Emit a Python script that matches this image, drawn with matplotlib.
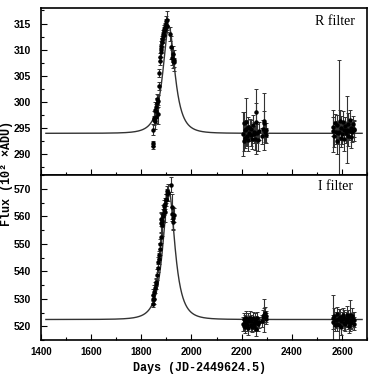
import numpy as np
import matplotlib
matplotlib.use('Agg')
import matplotlib.pyplot as plt
from matplotlib.ticker import MultipleLocator

# %% data
# R filter: peak, first and second baseline season
t_R1 = [1845, 1846, 1847, 1849, 1851, 1853, 1855, 1857, 1858, 1860, 1862, 1864,
        1866, 1868, 1870, 1872, 1874, 1876, 1877, 1878, 1880, 1881, 1883, 1884,
        1886, 1887, 1889, 1890, 1892, 1894, 1896, 1898, 1900, 1902, 1904,
        1916, 1920, 1924, 1926, 1928, 1930, 1932]
f_R1 = [291.5, 292.1, 294.7, 296.5, 297.0, 296.4, 298.5, 297.2, 299.0, 298.3, 299.8, 300.6,
        297.6, 300.2, 303.0, 305.5, 307.8, 308.6, 309.5, 310.2, 310.8, 311.5, 312.0, 311.4,
        312.6, 313.0, 312.8, 313.6, 313.9, 314.3, 314.0, 315.0, 315.4, 314.6, 315.6,
        313.0, 310.5, 308.5, 309.2, 307.8, 308.0, 307.6]
e_R1 = [0.5, 0.5, 1.0, 0.9, 1.3, 1.6, 1.5, 1.2, 1.0, 1.4, 0.9, 1.0,
        1.8, 1.2, 0.8, 0.8, 0.8, 0.8, 0.9, 0.8, 0.8, 0.8, 0.7, 0.9,
        0.8, 0.8, 0.8, 0.7, 0.8, 0.8, 0.9, 0.8, 1.0, 1.2, 1.8,
        1.3, 2.2, 1.5, 1.6, 1.3, 2.0, 0.9]

t_R2 = [2206, 2208, 2210, 2212, 2214, 2216, 2218, 2221, 2224, 2227, 2230, 2233, 2236,
        2239, 2242, 2245, 2248, 2251, 2254, 2257, 2259, 2262, 2265, 2269, 2282, 2285,
        2288, 2290, 2293, 2296, 2299]
f_R2 = [293.8, 296.0, 292.5, 294.6, 293.1, 296.2, 294.9, 293.4, 295.3, 292.8, 294.1, 295.0, 293.6,
        294.8, 292.9, 295.5, 293.8, 294.3, 293.0, 298.0, 296.2, 294.0, 292.7, 294.5, 293.5, 294.9,
        296.0, 296.3, 294.2, 293.6, 294.6]
e_R2 = [4.2, 2.0, 1.8, 1.6, 2.0, 4.5, 1.7, 1.9, 1.8, 2.1, 1.5, 1.8, 2.0,
        1.7, 1.9, 2.0, 1.6, 1.8, 2.2, 1.8, 6.2, 1.8, 2.0, 1.7, 1.5, 1.6,
        2.2, 5.5, 1.8, 1.5, 1.4]

t_R3 = [2563, 2566, 2569, 2572, 2575, 2578, 2581, 2584, 2588, 2591, 2594, 2597, 2600, 2603,
        2606, 2609, 2612, 2615, 2619, 2622, 2625, 2628, 2631, 2634, 2637, 2640, 2643, 2646, 2649]
f_R3 = [294.5, 295.3, 293.4, 296.0, 294.2, 292.6, 295.6, 294.0, 294.2, 296.4, 293.1, 295.0, 293.8, 296.2,
        294.7, 292.9, 295.4, 294.1, 294.7, 293.5, 295.8, 294.4, 296.6, 293.2, 295.1, 294.3, 295.7, 294.8, 294.6]
e_R3 = [4.0, 1.8, 2.0, 1.7, 2.2, 2.5, 1.9, 2.1, 13.8, 2.0, 1.8, 2.3, 1.9, 2.0,
        1.7, 2.2, 1.8, 2.0, 6.4, 1.9, 2.1, 1.7, 1.8, 2.0, 1.6, 1.9, 1.7, 1.5, 2.0]

# I filter
t_I1 = [1845, 1846, 1848, 1850, 1852, 1855, 1857, 1859, 1862, 1865, 1867, 1869, 1871,
        1873, 1875, 1877, 1879, 1880, 1882, 1884, 1885, 1887, 1889, 1891, 1893, 1895,
        1897, 1899, 1901, 1903, 1905, 1919, 1922, 1924, 1926, 1928, 1930]
f_I1 = [528.2, 530.0, 531.5, 529.8, 532.6, 534.0, 536.2, 535.5, 538.8, 541.2, 543.5, 544.6, 546.0,
        548.2, 550.0, 552.5, 557.6, 559.0, 556.8, 558.5, 561.0, 560.2, 562.4, 563.8, 561.5, 564.6,
        565.8, 566.5, 568.0, 569.2, 568.6, 571.5, 563.5, 561.0, 559.3, 558.0, 560.5]
e_I1 = [1.2, 1.5, 2.0, 1.8, 2.5, 2.0, 1.5, 1.8, 2.0, 1.5, 1.8, 2.0, 1.5,
        2.2, 1.8, 2.0, 3.5, 2.5, 4.0, 2.2, 3.0, 2.5, 2.0, 2.2, 3.5, 2.0,
        2.2, 1.8, 2.0, 1.8, 3.0, 2.8, 4.5, 2.5, 4.0, 3.0, 2.5]

t_I2 = [2206, 2208, 2210, 2212, 2214, 2216, 2218, 2221, 2224, 2227, 2230, 2233, 2236,
        2239, 2242, 2245, 2248, 2251, 2254, 2257, 2259, 2262, 2265, 2269, 2282, 2285,
        2288, 2290, 2293, 2296, 2299]
f_I2 = [521.0, 522.8, 520.2, 521.9, 519.8, 523.0, 521.4, 520.6, 522.5, 519.5, 521.8, 523.2, 520.4,
        522.0, 519.9, 522.9, 521.2, 520.3, 522.4, 521.6, 519.2, 523.0, 520.8, 521.5, 522.0, 523.5,
        524.2, 524.0, 525.0, 522.8, 523.6]
e_I2 = [2.5, 2.2, 2.0, 2.4, 2.1, 2.6, 2.0, 2.3, 2.2, 2.5, 2.0, 2.4, 2.1,
        2.3, 2.0, 2.5, 2.2, 2.1, 2.4, 2.0, 2.6, 2.2, 2.3, 2.0, 2.1, 2.4,
        2.5, 6.0, 2.2, 2.0, 2.1]

t_I3 = [2563, 2566, 2569, 2572, 2575, 2578, 2581, 2584, 2588, 2591, 2594, 2597, 2600, 2603,
        2606, 2609, 2612, 2615, 2619, 2622, 2625, 2628, 2631, 2634, 2637, 2640, 2643, 2646, 2649]
f_I3 = [523.0, 521.5, 523.8, 520.6, 522.4, 524.6, 521.0, 522.8, 520.5, 523.5, 521.8, 519.8, 522.6, 524.0,
        521.2, 523.2, 520.9, 522.5, 524.3, 521.6, 523.0, 520.2, 524.0, 522.2, 521.4, 523.8, 522.6, 521.0, 522.4]
e_I3 = [8.5, 2.6, 2.8, 2.4, 3.0, 2.6, 2.8, 2.5, 6.0, 2.7, 2.4, 3.0, 2.6, 2.8,
        2.5, 2.7, 2.6, 2.9, 3.2, 2.5, 2.8, 2.6, 5.5, 2.7, 2.5, 3.0, 2.6, 2.4, 2.8]

# microlensing fit (Paczynski)
t0, tE, u0 = 1910.0, 43.0, 0.6
base_R, amp_R = 294.0, 23.2
base_I, amp_I = 522.5, 53.2


def paczynski(t, base, amp):
    u = np.sqrt(u0**2 + ((t - t0) / tE)**2)
    A = (u**2 + 2) / (u * np.sqrt(u**2 + 4))
    return base + amp * (A - 1)


tt = np.linspace(1420, 2680, 1500)

# %% plot
fig = plt.figure(figsize=(3.75, 3.75), dpi=100)
ax1 = fig.add_axes([0.109, 0.533, 0.870, 0.446])
ax2 = fig.add_axes([0.109, 0.093, 0.870, 0.440], sharex=ax1)

xtick_font = dict(family='Liberation Sans', weight='bold', size=7)
ytick_font = dict(family='Liberation Sans', weight='bold', size=7.5)
eb = dict(fmt='o', ms=2.2, color='k', ecolor='0.2', elinewidth=0.8,
          capsize=1.3, capthick=0.7, lw=0)

for t, f, e in [(t_R1, f_R1, e_R1), (t_R2, f_R2, e_R2), (t_R3, f_R3, e_R3)]:
    ax1.errorbar(t, f, yerr=e, **eb)
ax1.plot(tt, paczynski(tt, base_R, amp_R), color='0.2', lw=1.0)

for t, f, e in [(t_I1, f_I1, e_I1), (t_I2, f_I2, e_I2), (t_I3, f_I3, e_I3)]:
    ax2.errorbar(t, f, yerr=e, **eb)
ax2.plot(tt, paczynski(tt, base_I, amp_I), color='0.2', lw=1.0)

ax1.set_xlim(1400, 2700)
ax1.set_ylim(286, 318)
ax2.set_ylim(515, 575)

ax1.yaxis.set_major_locator(MultipleLocator(5))
ax1.yaxis.set_minor_locator(MultipleLocator(2.5))
ax2.yaxis.set_major_locator(MultipleLocator(10))
ax2.yaxis.set_minor_locator(MultipleLocator(5))
ax2.xaxis.set_major_locator(MultipleLocator(200))
ax2.xaxis.set_minor_locator(MultipleLocator(100))

for ax in (ax1, ax2):
    ax.tick_params(which='both', direction='in', top=False, right=False)
    ax.tick_params(which='major', length=4, width=0.8)
    ax.tick_params(which='minor', length=2, width=0.8)
    for s in ax.spines.values():
        s.set_linewidth(1.2)
    for lab in ax.get_yticklabels():
        lab.set_fontproperties(ytick_font)
    for lab in ax.get_xticklabels():
        lab.set_fontproperties(xtick_font)
ax1.tick_params(labelbottom=False)
ax2.tick_params(axis='x', pad=5)
ax1.tick_params(axis='y', pad=7)
ax2.tick_params(axis='y', pad=7)

ax1.text(0.963, 0.898, 'R filter', transform=ax1.transAxes, ha='right',
         va='baseline', family='Liberation Serif', size=10)
ax2.text(0.957, 0.909, 'I filter', transform=ax2.transAxes, ha='right',
         va='baseline', family='Liberation Serif', size=10)

fig.text(0.533, 0.02, 'Days (JD-2449624.5)', ha='center', va='center',
         family='Liberation Mono', weight='bold', size=8.5)
fig.text(0.018, 0.536, 'Flux (10² ×ADU)', ha='center', va='center', rotation=90,
         family='Liberation Mono', weight='bold', size=8.5)

fig.savefig('out.png', dpi=100)
